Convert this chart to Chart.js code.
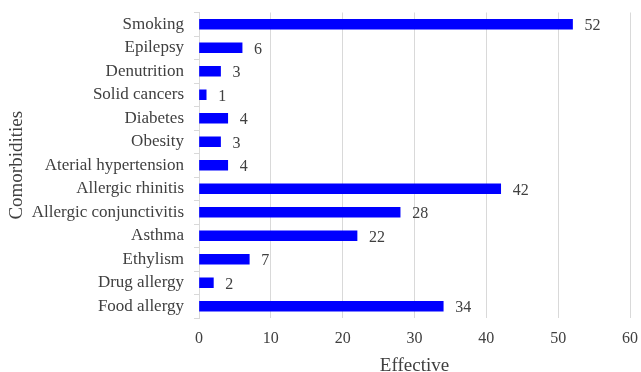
<!DOCTYPE html>
<html>
<head>
<meta charset="utf-8">
<script src="https://cdn.jsdelivr.net/npm/chart.js@4.4.1/dist/chart.umd.min.js"></script>
<style>
html,body{margin:0;padding:0;background:#fff;}
#wrap{width:641px;height:372px;position:relative;}
</style>
</head>
<body>
<div id="wrap"><canvas id="c" width="641" height="372"></canvas></div>
<script>
const categories = ["Smoking","Epilepsy","Denutrition","Solid cancers","Diabetes","Obesity","Aterial hypertension","Allergic rhinitis","Allergic conjunctivitis","Asthma","Ethylism","Drug allergy","Food allergy"];
const values = [52,6,3,1,4,3,4,42,28,22,7,2,34];
const xTicks = [0,10,20,30,40,50,60];

const FONT = "'Liberation Serif','Times New Roman',serif";
const TXT = '#404040';

const valueLabels = {
  id: 'valueLabels',
  afterDatasetsDraw(chart) {
    const ctx = chart.ctx;
    const meta = chart.getDatasetMeta(0);
    ctx.save();
    ctx.font = '16px ' + FONT;
    ctx.fillStyle = TXT;
    ctx.textAlign = 'left';
    ctx.textBaseline = 'middle';
    meta.data.forEach((bar, i) => {
      ctx.fillText(String(values[i]), bar.x + 12, bar.y + 2);
    });
    ctx.restore();
  }
};

new Chart(document.getElementById('c'), {
  type: 'bar',
  data: {
    labels: categories,
    datasets: [{
      data: values,
      backgroundColor: '#0000FF',
      borderWidth: 0,
      barThickness: 10
    }]
  },
  options: {
    indexAxis: 'y',
    responsive: false,
    animation: false,
    devicePixelRatio: 1,
    layout: { padding: { top: 12.5, right: 11, left: 0, bottom: 0 } },
    plugins: { legend: { display: false }, tooltip: { enabled: false } },
    scales: {
      x: {
        min: 0, max: 60,
        afterBuildTicks(scale) { scale.ticks = xTicks.map(v => ({ value: v })); },
        grid: { color: '#d9d9d9', drawTicks: false, lineWidth: 1 },
        border: { display: false },
        ticks: { font: { family: FONT, size: 16 }, color: TXT, padding: 11, maxRotation: 0 },
        title: { display: true, text: 'Effective', font: { family: FONT, size: 19 }, color: TXT, padding: { top: 0, bottom: -5 } },
        afterFit(scale) { scale.height = 54; scale.paddingLeft = 0; scale.paddingRight = 0; }
      },
      y: {
        grid: { offset: true, drawOnChartArea: false, drawTicks: true, tickLength: 5, color: '#d9d9d9' },
        border: { display: true, color: '#d9d9d9' },
        ticks: { font: { family: FONT, size: 17 }, color: TXT, padding: 10, autoSkip: false },
        title: { display: true, text: 'Comorbidities', font: { family: FONT, size: 19 }, color: TXT, padding: { top: 6, bottom: 0 } },
        afterFit(scale) { scale.width = 199; scale.paddingTop = 0; scale.paddingBottom = 0; }
      }
    }
  },
  plugins: [valueLabels]
});
</script>
</body>
</html>
